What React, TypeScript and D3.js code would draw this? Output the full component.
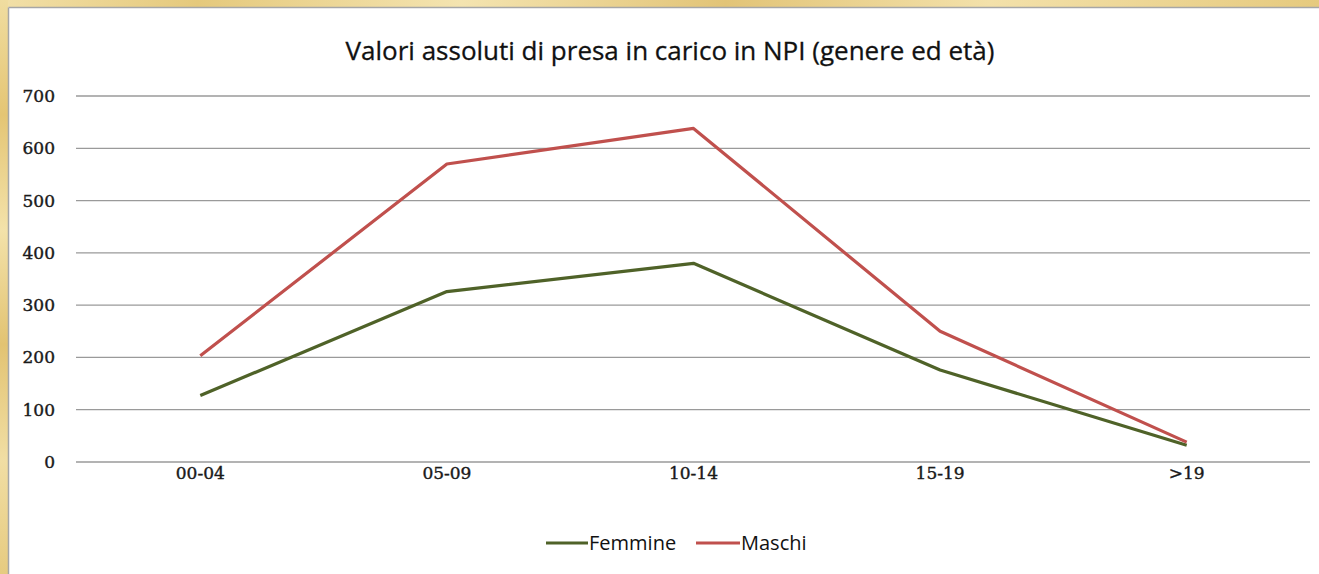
import React from "react";
import * as d3 from "d3";

const categories = ["00-04", "05-09", "10-14", "15-19", ">19"];
const femmine = [127, 326, 380, 176, 32];
const maschi = [203, 570, 638, 250, 38];
const yTicks = [0, 100, 200, 300, 400, 500, 600, 700];
const seriesNames = ["Femmine", "Maschi"];
const title = "Valori assoluti di presa in carico in NPI (genere ed età)";

const W = 1319;
const H = 574;

export default function App() {
  const x = d3.scaleBand<string>().domain(categories).range([77, 1310]);
  const y = d3.scaleLinear().domain([0, 700]).range([462, 96]);
  const line = d3
    .line<number>()
    .x((_, i) => (x(categories[i]) as number) + x.bandwidth() / 2)
    .y((d) => y(d));
  const series = [
    { name: seriesNames[0], values: femmine, color: "#4F6228" },
    { name: seriesNames[1], values: maschi, color: "#C0504D" },
  ];
  const serif = "'DejaVu Serif', 'Liberation Serif', serif";
  const sans = "'Open Sans', 'Liberation Sans', sans-serif";
  return (
    <div style={{ position: "fixed", left: 0, top: 0, width: W, height: H }}>
      <svg width={W} height={H} style={{ display: "block" }}>
        <defs>
          <linearGradient id="goldV" x1="0" y1="0" x2="0" y2="1">
            <stop offset="0" stopColor="#F0DDA0" />
            <stop offset="0.2" stopColor="#E4C574" />
            <stop offset="0.4" stopColor="#F3E2AA" />
            <stop offset="0.6" stopColor="#E2C372" />
            <stop offset="0.8" stopColor="#F1DEA4" />
            <stop offset="1" stopColor="#E6CB80" />
          </linearGradient>
          <linearGradient id="goldH" x1="0" y1="0" x2="1" y2="0">
            <stop offset="0" stopColor="#F2E0A8" />
            <stop offset="0.15" stopColor="#E5C97C" />
            <stop offset="0.35" stopColor="#F4E4B0" />
            <stop offset="0.55" stopColor="#E2C477" />
            <stop offset="0.75" stopColor="#F3E1AA" />
            <stop offset="1" stopColor="#E6CA7E" />
          </linearGradient>
        </defs>
        <rect x={0} y={0} width={W} height={H} fill="#ffffff" />
        <rect x={0} y={0} width={W} height={7} fill="url(#goldH)" />
        <rect x={0} y={0} width={8} height={H} fill="url(#goldV)" />
        <line x1={8.5} y1={7.5} x2={W} y2={7.5} stroke="#a6a6a6" strokeWidth={1.5} />
        <line x1={8.5} y1={7.5} x2={8.5} y2={H} stroke="#a6a6a6" strokeWidth={1.5} />

        <text
          x={670}
          y={60}
          textAnchor="middle"
          fontFamily={sans}
          fontSize={26}
          fill="#111"
          stroke="#111"
          strokeWidth={0.3}
        >
          {title}
        </text>

        {yTicks.map((t) => (
          <g key={t}>
            <line x1={76} x2={1310} y1={y(t)} y2={y(t)} stroke="#9a9a9a" strokeWidth={1.3} />
            <text
              x={55}
              y={y(t) + 6}
              textAnchor="end"
              fontFamily={serif}
              fontSize={17}
              fill="#1a1a1a"
              stroke="#1a1a1a"
              strokeWidth={0.4}
            >
              {t}
            </text>
          </g>
        ))}

        {categories.map((c) => (
          <text
            key={c}
            x={(x(c) as number) + x.bandwidth() / 2}
            y={479}
            textAnchor="middle"
            fontFamily={serif}
            fontSize={17}
            fill="#1a1a1a"
            stroke="#1a1a1a"
            strokeWidth={0.4}
          >
            {c}
          </text>
        ))}

        {series.map((s) => (
          <path
            key={s.name}
            d={line(s.values) || ""}
            fill="none"
            stroke={s.color}
            strokeWidth={3.2}
            strokeLinejoin="round"
          />
        ))}

        <g fontFamily={sans} fontSize={20} fill="#111">
          <line x1={546} x2={588} y1={543} y2={543} stroke="#4F6228" strokeWidth={3.2} />
          <text x={589} y={550}>{seriesNames[0]}</text>
          <line x1={696} x2={740} y1={543} y2={543} stroke="#C0504D" strokeWidth={3.2} />
          <text x={741} y={550}>{seriesNames[1]}</text>
        </g>
      </svg>
    </div>
  );
}
